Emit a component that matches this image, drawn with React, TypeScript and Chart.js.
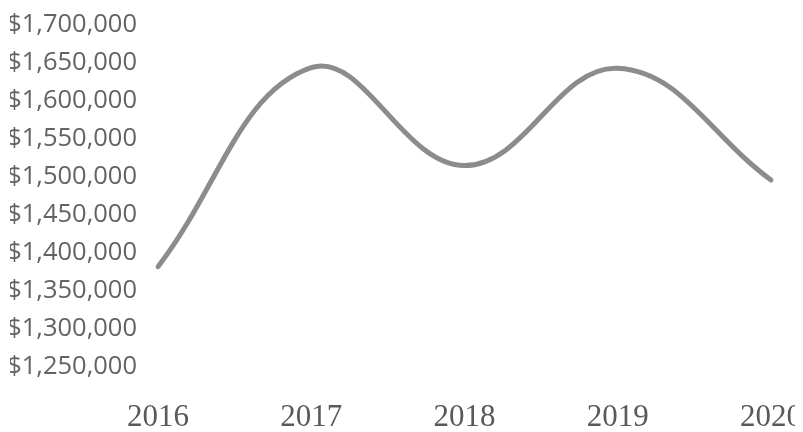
import React, { useEffect, useRef } from 'react';
import Chart from 'chart.js/auto';

const years = ['2016', '2017', '2018', '2019', '2020'];
const revenue = [1382000, 1644000, 1515000, 1643000, 1496000];
const yMin = 1250000;
const yMax = 1700000;
const yStep = 50000;

const fmt = (v: number) => '$' + v.toLocaleString('en-US');

export default function App() {
  const canvasRef = useRef<HTMLCanvasElement>(null);
  const chartRef = useRef<Chart | null>(null);

  useEffect(() => {
    if (!canvasRef.current) return;

    chartRef.current = new Chart(canvasRef.current, {
      type: 'line',
      data: {
        labels: years,
        datasets: [{
          data: revenue,
          borderColor: '#8c8c8c',
          borderWidth: 5,
          borderCapStyle: 'round',
          tension: 0.4,
          pointRadius: 0,
          fill: false
        }]
      },
      options: {
        animation: false,
        responsive: true,
        maintainAspectRatio: false,
        layout: { padding: { left: 2, right: 0, top: 0, bottom: 0 } },
        plugins: {
          legend: { display: false },
          tooltip: { enabled: false }
        },
        scales: {
          x: {
            grid: { display: false, drawTicks: false },
            border: { display: false },
            ticks: {
              color: '#595959',
              padding: 35,
              maxRotation: 0,
              font: { family: '"Liberation Serif", serif', size: 31, lineHeight: 1 }
            },
            // tick padding is counted on both sides by default; keep only the gap above the labels
            afterFit: (scale: any) => {
              scale.height = 65;
              scale.paddingLeft = 31;
              scale.paddingRight = 31;
            }
          },
          y: {
            min: yMin,
            max: yMax,
            grid: { display: false, drawTicks: false },
            border: { display: false },
            ticks: {
              stepSize: yStep,
              autoSkip: false,
              color: '#636363',
              padding: 21,
              font: { family: '"Open Sans", sans-serif', size: 25.5 },
              callback: (v) => fmt(Number(v))
            },
            afterFit: (scale: any) => {
              scale.width = 148;
              scale.paddingTop = 17;
              scale.paddingBottom = 15;
            }
          }
        }
      }
    });

    return () => {
      if (chartRef.current) {
        chartRef.current.destroy();
      }
    };
  }, []);

  return (
    <div style={{ width: 794, height: 424, position: 'relative' }}>
      <canvas ref={canvasRef} />
    </div>
  );
}
